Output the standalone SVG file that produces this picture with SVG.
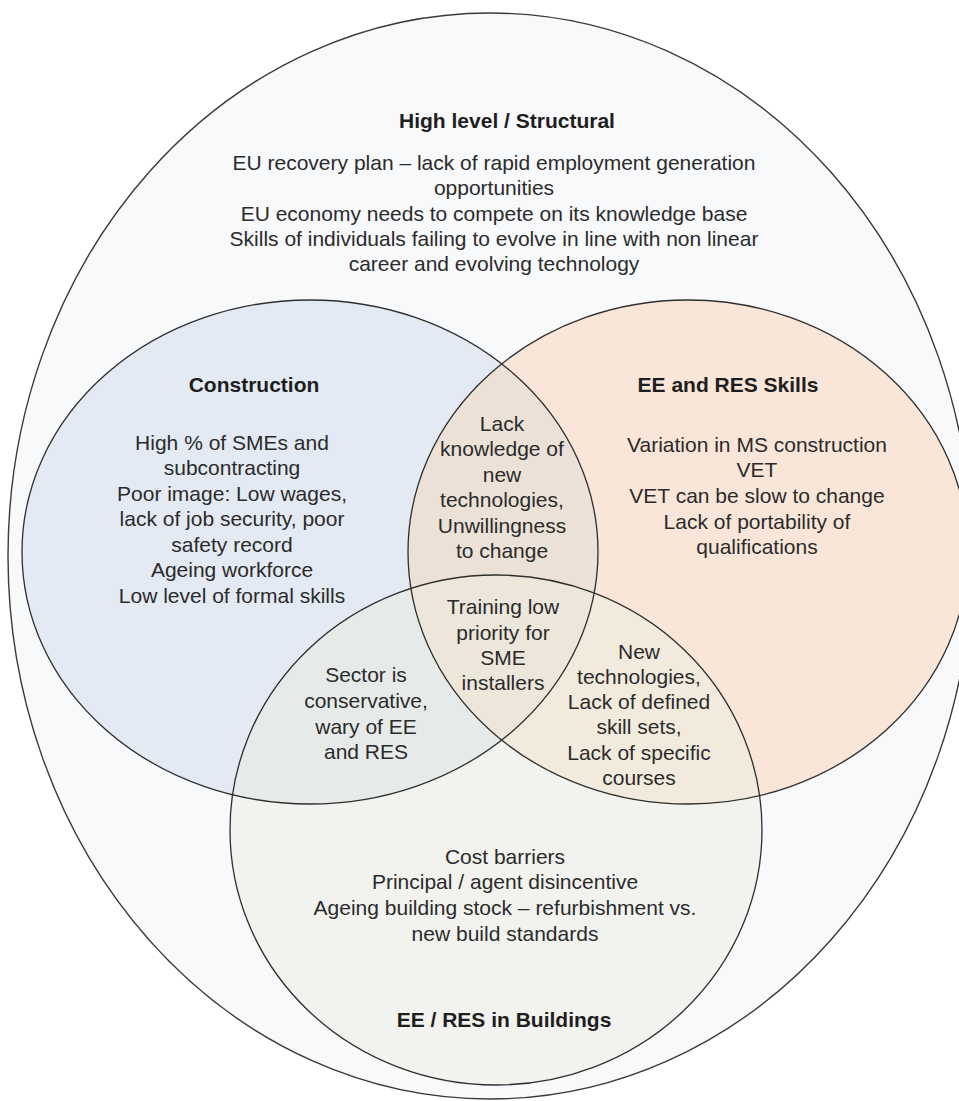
<svg xmlns="http://www.w3.org/2000/svg" width="959" height="1101" viewBox="0 0 959 1101">
<style>
.t{font-family:"Liberation Sans",Arial,sans-serif;font-size:21px;fill:#2b2b2b;text-anchor:middle}
.b{font-weight:bold;fill:#1e1e1e}
.edge{fill:none;stroke:#2e2e2e;stroke-width:1.3}
</style>
<defs>
<ellipse id="eC" cx="310" cy="552" rx="288" ry="252"/>
<ellipse id="eE" cx="688" cy="552" rx="280" ry="252"/>
<ellipse id="eB" cx="496" cy="830" rx="266" ry="255"/>
<clipPath id="clipC"><use href="#eC"/></clipPath>
<clipPath id="clipE"><use href="#eE"/></clipPath>
<clipPath id="clipB"><use href="#eB"/></clipPath>
<clipPath id="clipCB"><use href="#eB" clip-path="url(#clipC)"/></clipPath>
</defs>
<rect width="959" height="1101" fill="#ffffff"/>
<g id="outer">
<ellipse cx="490" cy="556" rx="482" ry="543" fill="#f8f9fb" stroke="#3a3a3a" stroke-width="1.4"/>
<text class="t b" x="507" y="128">High level / Structural</text>
<text class="t" x="494" y="170">EU recovery plan – lack of rapid employment generation</text>
<text class="t" x="494" y="195">opportunities</text>
<text class="t" x="494" y="221">EU economy needs to compete on its knowledge base</text>
<text class="t" x="494" y="246">Skills of individuals failing to evolve in line with non linear</text>
<text class="t" x="494" y="271">career and evolving technology</text>
</g>
<g id="fills">
<use href="#eC" fill="#e4eaf3"/>
<use href="#eE" fill="#f9e6d8"/>
<use href="#eB" fill="#f2f3ef"/>
<g clip-path="url(#clipC)"><use href="#eE" fill="#ebe1d7"/><use href="#eB" fill="#e6ebe9"/></g>
<g clip-path="url(#clipE)"><use href="#eB" fill="#f2ebdd"/></g>
<g clip-path="url(#clipCB)"><use href="#eE" fill="#ece6db"/></g>
</g>
<g id="construction">
<use href="#eC" class="edge"/>
<text class="t b" x="254" y="392">Construction</text>
<text class="t" x="232" y="450">High % of SMEs and</text>
<text class="t" x="232" y="475">subcontracting</text>
<text class="t" x="232" y="501">Poor image: Low wages,</text>
<text class="t" x="232" y="526">lack of job security, poor</text>
<text class="t" x="232" y="552">safety record</text>
<text class="t" x="232" y="577">Ageing workforce</text>
<text class="t" x="232" y="603">Low level of formal skills</text>
</g>
<g id="ee-res-skills">
<use href="#eE" class="edge"/>
<text class="t b" x="728" y="392">EE and RES Skills</text>
<text class="t" x="757" y="452">Variation in MS construction</text>
<text class="t" x="757" y="477">VET</text>
<text class="t" x="757" y="503">VET can be slow to change</text>
<text class="t" x="757" y="529">Lack of portability of</text>
<text class="t" x="757" y="554">qualifications</text>
</g>
<g id="ee-res-buildings">
<use href="#eB" class="edge"/>
<text class="t" x="505" y="864">Cost barriers</text>
<text class="t" x="505" y="889">Principal / agent disincentive</text>
<text class="t" x="505" y="915">Ageing building stock – refurbishment vs.</text>
<text class="t" x="505" y="941">new build standards</text>
<text class="t b" x="504" y="1027">EE / RES in Buildings</text>
</g>
<g id="overlap-construction-skills">
<text class="t" x="502" y="431">Lack</text>
<text class="t" x="502" y="456">knowledge of</text>
<text class="t" x="502" y="482">new</text>
<text class="t" x="502" y="507">technologies,</text>
<text class="t" x="502" y="533">Unwillingness</text>
<text class="t" x="502" y="558">to change</text>
</g>
<g id="overlap-all">
<text class="t" x="503" y="614">Training low</text>
<text class="t" x="503" y="640">priority for</text>
<text class="t" x="503" y="665">SME</text>
<text class="t" x="503" y="690">installers</text>
</g>
<g id="overlap-construction-buildings">
<text class="t" x="366" y="682">Sector is</text>
<text class="t" x="366" y="708">conservative,</text>
<text class="t" x="366" y="734">wary of EE</text>
<text class="t" x="366" y="759">and RES</text>
</g>
<g id="overlap-skills-buildings">
<text class="t" x="639" y="659">New</text>
<text class="t" x="639" y="684">technologies,</text>
<text class="t" x="639" y="709">Lack of defined</text>
<text class="t" x="639" y="734">skill sets,</text>
<text class="t" x="639" y="760">Lack of specific</text>
<text class="t" x="639" y="785">courses</text>
</g>
</svg>
